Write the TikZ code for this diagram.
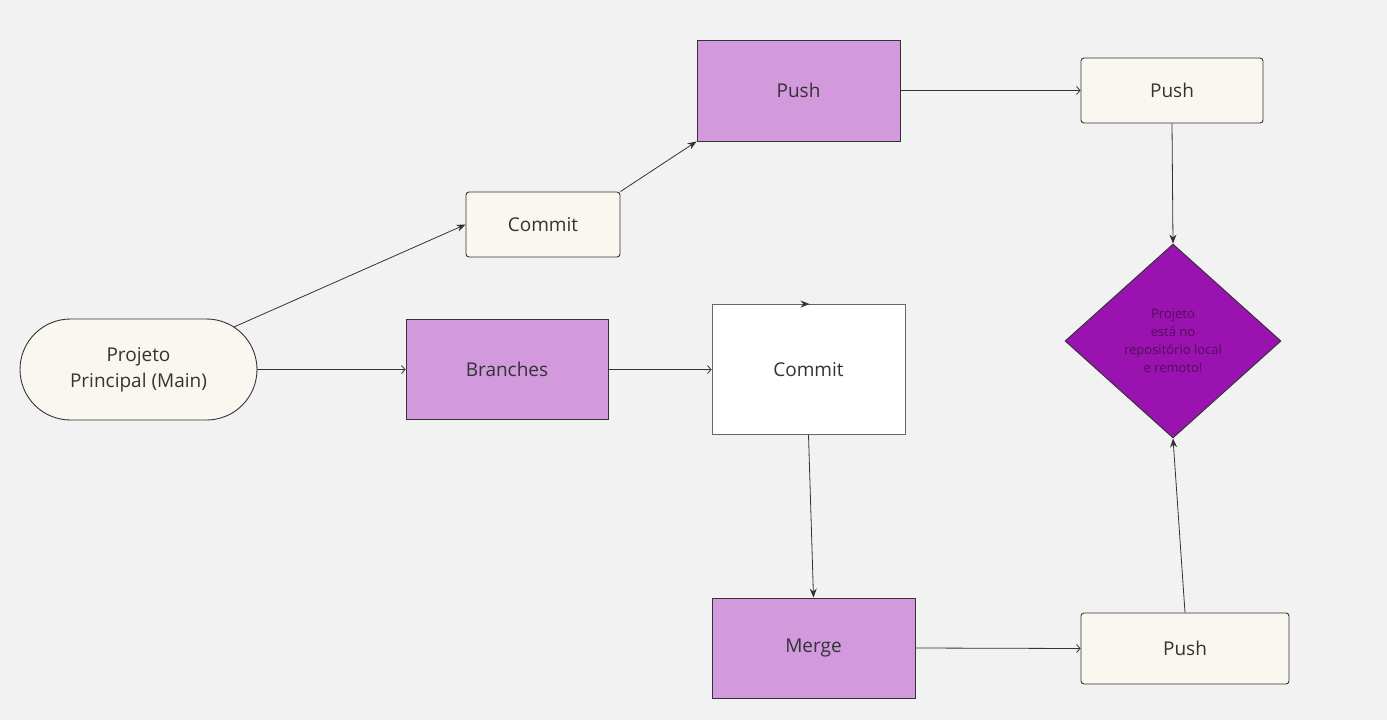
\documentclass[tikz,border=0pt]{standalone}
\usepackage{fontspec}
\setmainfont{Open Sans}
\usepackage{tikz}
\usepackage{xcolor}
\usetikzlibrary{arrows.meta}
\usetikzlibrary{shapes.geometric,shapes.misc}
\usetikzlibrary{calc}

\definecolor{fundo}{HTML}{F2F2F2}
\definecolor{creme}{HTML}{FAF7F0}
\definecolor{lilas}{HTML}{D29ADC}
\definecolor{roxo}{HTML}{9A12B0}
\definecolor{roxotexto}{HTML}{4E1058}
\definecolor{linha}{HTML}{333333}

\tikzset{>=latex}
\tikzset{
	caixa/.style={draw=linha,line width=0.9pt,text=linha,font=\fontsize{19}{26}\selectfont,align=center,inner sep=0pt},
	creme/.style={caixa,fill=creme,rounded corners=3pt},
	lilas/.style={caixa,fill=lilas},
	cheia/.style={draw=linha,line width=0.8pt,-{Stealth[length=9pt,width=7pt]}},
	aberta/.style={draw=linha,line width=0.8pt,-{Straight Barb[length=3.5pt,width=8pt]}}
}

\begin{document}
\begin{tikzpicture}[x=1pt,y=-1pt]
		\fill[fundo] (0,0) rectangle (1387,720);
		\useasboundingbox (0,0) rectangle (1387,720);
		
		\node[caixa,fill=creme,shape=rounded rectangle,minimum width=237pt,minimum height=101pt] (main) at (138.5,369.5) {Projeto\\Principal (Main)};
		\node[creme,minimum width=154pt,minimum height=65pt] (commitA) at (543,224.5) {Commit};
		\node[lilas,minimum width=203pt,minimum height=101pt] (pushA) at (798.5,90.5) {Push};
		\node[creme,minimum width=182pt,minimum height=65pt] (pushB) at (1172,90.5) {Push};
		\node[lilas,minimum width=202pt,minimum height=100pt] (branches) at (507,369.5) {Branches};
		\node[caixa,draw=linha!75,fill=white,minimum width=193pt,minimum height=130pt] (commitB) at (808.5,369.5) {Commit};
		\node[lilas,minimum width=203pt,minimum height=100pt] (merge) at (813.5,648) {Merge};
		\node[creme,minimum width=208pt,minimum height=71pt] (pushC) at (1185,648.5) {Push};
		\node[draw=linha,line width=0.9pt,fill=roxo,shape=diamond,minimum width=216pt,minimum height=194pt,inner sep=0pt,align=center,text=roxotexto,font=\fontsize{13}{18}\selectfont] (fim) at (1173,341) {Projeto\\está no\\repositório local\\e remoto!};
		
		\draw[cheia] (main.24) -- (commitA.west);
		\draw[cheia] (commitA.north east) -- (pushA.south west);
		\draw[aberta] (pushA.east) -- (pushB.west);
		\draw[cheia] (pushB.south) -- (fim.north);
		\draw[aberta] (main.east) -- (branches.west);
		\draw[aberta] (branches.east) -- (commitB.west);
		\draw[cheia] ([xshift=-5pt]commitB.north) -- ([xshift=1pt]commitB.north);
		\draw[cheia] (commitB.south) -- (merge.north);
		\draw[aberta] (merge.east) -- (pushC.west);
		\draw[cheia] (pushC.north) -- (fim.south);
	\end{tikzpicture}
\end{document}
